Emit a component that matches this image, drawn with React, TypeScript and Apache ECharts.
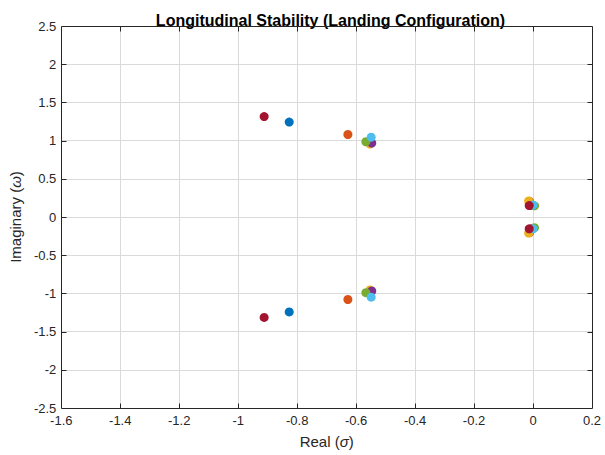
import React, { useEffect, useRef } from "react";
import * as echarts from "echarts";

const seriesNames = ["Case 1", "Case 2", "Case 3", "Case 4", "Case 5", "Case 6", "Case 7"];
const seriesColors = ["#0072BD", "#D95319", "#EDB120", "#7E2F8E", "#77AC30", "#4DBEEE", "#A2142F"];
// [real, imaginary] pole locations
const case1: number[][] = [[-0.827, 1.243], [-0.827, -1.243], [-0.004, 0.16], [-0.004, -0.16]];
const case2: number[][] = [[-0.628, 1.08], [-0.628, -1.08], [-0.012, 0.205], [-0.012, -0.205]];
const case3: number[][] = [[-0.553, 0.955], [-0.553, -0.955], [-0.015, 0.21], [-0.015, -0.21]];
const case4: number[][] = [[-0.547, 0.968], [-0.547, -0.968], [-0.002, 0.15], [-0.002, -0.15]];
const case5: number[][] = [[-0.567, 0.985], [-0.567, -0.99], [0.005, 0.146], [0.005, -0.14]];
const case6: number[][] = [[-0.549, 1.045], [-0.549, -1.05], [0.0, 0.156], [0.0, -0.155]];
const case7: number[][] = [[-0.912, 1.315], [-0.912, -1.315], [-0.013, 0.15], [-0.013, -0.155]];
const allCases = [case1, case2, case3, case4, case5, case6, case7];

const xMin = -1.6, xMax = 0.2, xStep = 0.2;
const yMin = -2.5, yMax = 2.5, yStep = 0.5;

const FONT = "'Liberation Sans', Arial, Helvetica, sans-serif";
const AX = "#262626";
const TICK_LEN = 5;

const fmt = (v: number) => String(+v.toFixed(1));

export default function App() {
  const ref = useRef<HTMLDivElement>(null);
  useEffect(() => {
    document.body.style.margin = "0";
    const chart = echarts.init(ref.current!, null, { renderer: "svg" });
    const xr = { type: "value", min: xMin, max: xMax, interval: xStep };
    const yr = { type: "value", min: yMin, max: yMax, interval: yStep };
    chart.setOption({
      animation: false,
      backgroundColor: "#ffffff",
      textStyle: { fontFamily: FONT },
      title: {
        text: "Longitudinal Stability (Landing Configuration)",
        left: 325.5,
        textAlign: "center",
        top: 7,
        textStyle: { fontFamily: FONT, fontSize: 16, fontWeight: "bold", color: "#000" },
      },
      grid: { left: 59, right: 13, top: 26, bottom: 47, containLabel: false },
      xAxis: {
        ...xr,
        axisLine: { show: false },
        axisTick: { show: false },
        splitLine: { show: true, lineStyle: { color: "#dadada", width: 1 } },
        axisLabel: { color: AX, fontSize: 13, fontFamily: FONT, margin: 6, formatter: fmt },
        name: "Real ({i|σ})",
        nameLocation: "middle",
        nameGap: 26,
        nameTextStyle: { color: AX, fontSize: 15, fontFamily: FONT, rich: { i: { fontStyle: "italic", fontSize: 15, fontFamily: FONT, color: AX } } },
      },
      yAxis: {
        ...yr,
        axisLine: { show: false },
        axisTick: { show: false },
        splitLine: { show: true, lineStyle: { color: "#dadada", width: 1 } },
        axisLabel: { color: AX, fontSize: 13, fontFamily: FONT, margin: 5, formatter: fmt },
        name: "Imaginary ({i|ω})",
        nameLocation: "middle",
        nameGap: 35,
        nameRotate: 90,
        nameTextStyle: { color: AX, fontSize: 15, fontFamily: FONT, rich: { i: { fontStyle: "italic", fontSize: 15, fontFamily: FONT, color: AX } } },
      },
      series: allCases.map((d, i) => ({
        name: seriesNames[i],
        type: "scatter",
        data: d,
        symbol: "circle",
        symbolSize: 9,
        itemStyle: { color: seriesColors[i], opacity: 1 },
        z: 2 + i,
      })),
    });

    // Box frame and inward ticks on all four sides, positioned through the chart's own scales.
    const px = (x: number, y: number) => chart.convertToPixel({ gridIndex: 0 }, [x, y]) as number[];
    const crisp = (v: number) => Math.round(v) + 0.5;
    const [l, b] = px(xMin, yMin);
    const [r, t] = px(xMax, yMax);
    const L = crisp(l), R = crisp(r), T = crisp(t), B = crisp(b);
    const lineStyle = { stroke: AX, lineWidth: 1 };
    const graphics: any[] = [
      { type: "rect", silent: true, z: 100, shape: { x: L, y: T, width: R - L, height: B - T }, style: { fill: "none", stroke: AX, lineWidth: 1 } },
    ];
    const nx = Math.round((xMax - xMin) / xStep);
    for (let k = 1; k < nx; k++) {
      const X = crisp(px(xMin + k * xStep, yMin)[0]);
      graphics.push({ type: "line", silent: true, z: 100, shape: { x1: X, y1: B, x2: X, y2: B - TICK_LEN }, style: lineStyle });
      graphics.push({ type: "line", silent: true, z: 100, shape: { x1: X, y1: T, x2: X, y2: T + TICK_LEN }, style: lineStyle });
    }
    const ny = Math.round((yMax - yMin) / yStep);
    for (let k = 1; k < ny; k++) {
      const Y = crisp(px(xMin, yMin + k * yStep)[1]);
      graphics.push({ type: "line", silent: true, z: 100, shape: { x1: L, y1: Y, x2: L + TICK_LEN, y2: Y }, style: lineStyle });
      graphics.push({ type: "line", silent: true, z: 100, shape: { x1: R, y1: Y, x2: R - TICK_LEN, y2: Y }, style: lineStyle });
    }
    chart.setOption({ graphic: graphics });
    return () => chart.dispose();
  }, []);
  return <div ref={ref} style={{ width: 605, height: 455 }} />;
}
